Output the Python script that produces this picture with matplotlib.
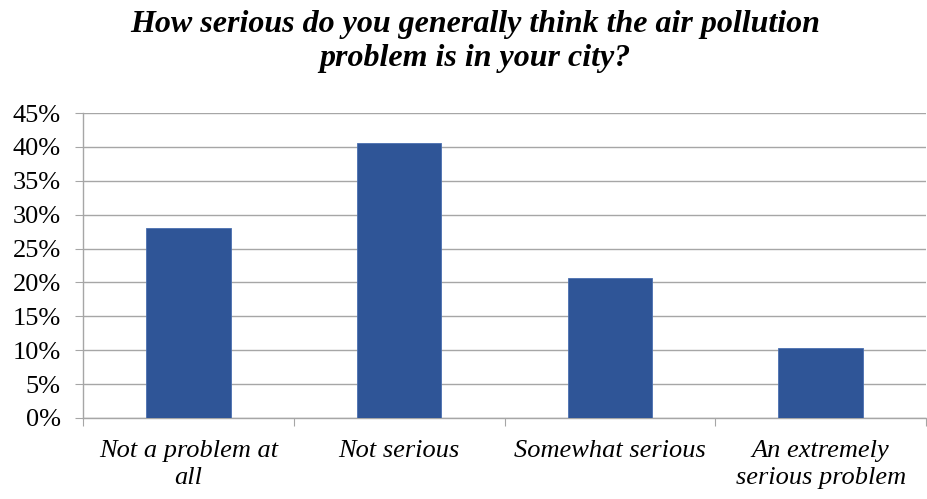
import matplotlib
matplotlib.use("Agg")
import matplotlib.pyplot as plt
import numpy as np
from matplotlib.ticker import FuncFormatter, MultipleLocator

categories = ["Not a problem at\nall", "Not serious", "Somewhat serious", "An extremely\nserious problem"]
values = [28.0, 40.6, 20.7, 10.4]
title_lines = ["How serious do you generally think the air pollution", "problem is in your city?"]

serif = ["Liberation Serif", "DejaVu Serif"]
plt.rcParams["font.family"] = serif

fig = plt.figure(figsize=(9.28, 4.99), dpi=100)
ax = fig.add_axes([83/928, 1-418/499, (926-83)/928, (418-113)/499])

x = np.arange(len(categories))
ax.bar(x, values, width=0.40, color="#2F5597", edgecolor="#4A6FB0", linewidth=0.6, zorder=3)

ax.set_ylim(0, 45)
ax.set_xlim(-0.5, len(categories) - 0.5)
ax.yaxis.set_major_locator(MultipleLocator(5))
ax.yaxis.set_major_formatter(FuncFormatter(lambda v, p: f"{int(round(v))}%"))
ax.grid(axis="y", color="#A6A6A6", linewidth=1.0, zorder=0)
ax.set_axisbelow(True)

for s in ["top", "right"]:
    ax.spines[s].set_visible(False)
for s in ["left", "bottom"]:
    ax.spines[s].set_color("#A6A6A6")
    ax.spines[s].set_linewidth(1.0)

ax.set_xticks(np.arange(len(categories) + 1) - 0.5, minor=False)
ax.set_xticklabels([])
ax.set_xticks(x, minor=True)
ax.set_xticklabels(categories, minor=True, fontsize=19, style="italic", linespacing=1.3)
ax.tick_params(axis="x", which="major", length=6, color="#A6A6A6", direction="out")
ax.tick_params(axis="x", which="minor", length=0, pad=16)
ax.tick_params(axis="y", length=6, color="#A6A6A6", labelsize=19, pad=10)

for line, yb in zip(title_lines, [32, 66]):
    fig.text(475/928, 1 - yb/499, line, ha="center", va="baseline", fontsize=23,
             fontweight="bold", style="italic")

fig.savefig("out.png", dpi=100)
